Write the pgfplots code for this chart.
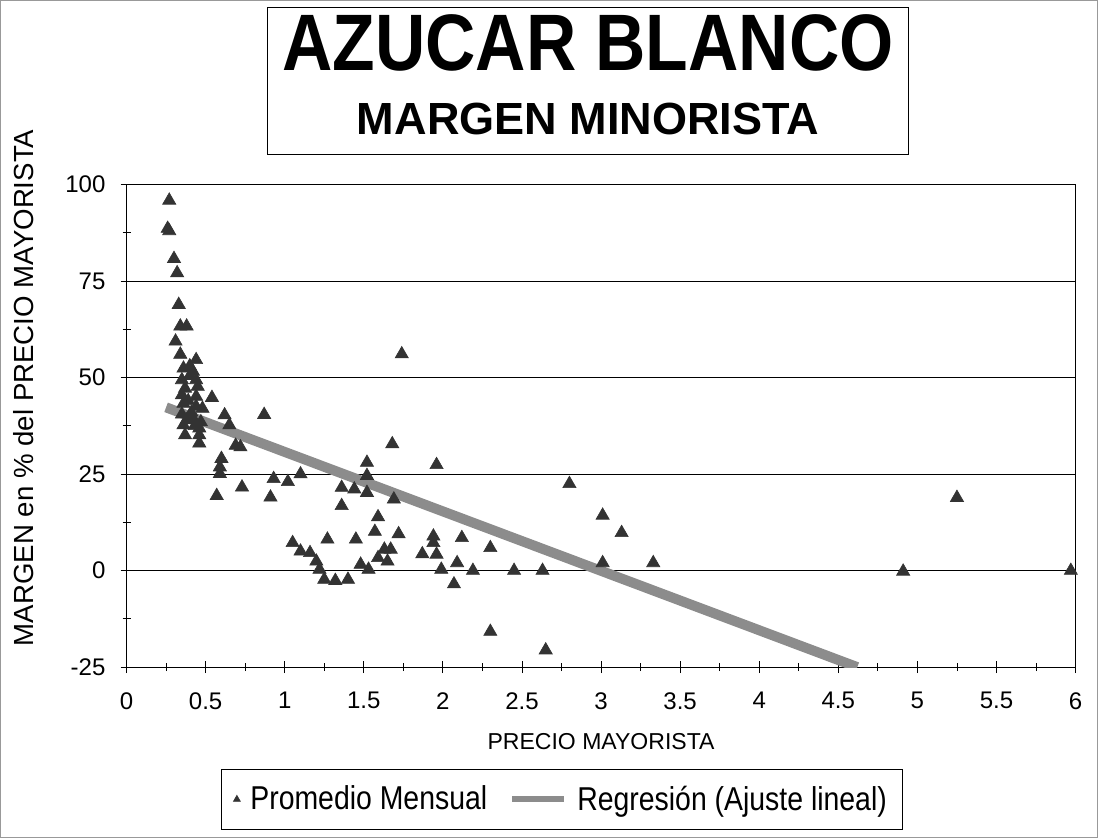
\documentclass[border=0pt]{standalone}
\usepackage{fontspec}
\setmainfont{Liberation Sans}
\newfontfamily\titlefont[FakeStretch=0.87]{Liberation Sans}
\newfontfamily\legfont[FakeStretch=0.86]{Liberation Sans}
\usepackage{pgfplots}
\pgfplotsset{compat=1.18}

\begin{document}
\begin{tikzpicture}
% outer chart border
\draw[black!40, line width=0.4pt] (0.5pt,0.5pt) rectangle (548.5pt,418.5pt);

\begin{axis}[
  at={(63.5pt,85.5pt)}, anchor=south west,
  scale only axis, width=474pt, height=241pt,
  xmin=0, xmax=6, ymin=-25, ymax=100,
  xtick={0,0.5,...,6}, minor x tick num=1,
  ytick={-25,0,25,50,75,100}, minor y tick num=1,
  tick pos=left,
  ymajorgrids, major grid style={black, line width=0.4pt},
  tick align=center, major tick length=6pt, minor tick length=4pt,
  tick style={black, line width=0.4pt},
  axis line style={black, line width=0.5pt},
  /pgf/number format/assume math mode=true,
  /pgf/number format/.cd, fixed, precision=1, 1000 sep={}, /pgfplots/.cd,
  xticklabel style={font=\fontsize{12}{14}\selectfont, yshift=-6pt},
  yticklabel style={font=\fontsize{12}{14}\selectfont, xshift=-4pt},
  xlabel={PRECIO MAYORISTA},
  xlabel style={font=\fontsize{11.5}{14}\selectfont, yshift=-5pt},
  ylabel={MARGEN en \% del PRECIO MAYORISTA},
  ylabel style={font=\fontsize{13.8}{16}\selectfont, yshift=9pt, xshift=19pt},
  legend style={at={(0.459,-0.274)}, anchor=center, draw=black, line width=0.5pt,
    legend columns=2, font=\legfont\fontsize{16.5}{18}\selectfont,
    inner xsep=6pt, inner ysep=6pt,
    /tikz/every odd column/.append style={column sep=3pt},
    /tikz/every even column/.append style={column sep=9pt}},
]
\addplot[only marks, mark=triangle*, mark size=3.8pt,
  mark options={fill=black!80, draw=black!80, line width=0.3pt},
  legend image post style={mark size=2pt}] table {
x y
0.27 95.9
0.26 88.6
0.27 88.0
0.30 80.8
0.32 77.1
0.33 68.9
0.34 63.3
0.38 63.3
0.31 59.4
0.34 56.0
0.44 54.6
0.36 52.4
0.42 51.6
0.40 53.0
0.35 49.4
0.44 49.4
0.40 50.5
0.37 47.2
0.45 47.7
0.35 45.5
0.44 45.1
0.54 44.8
0.39 44.0
0.36 43.3
0.44 42.5
0.48 42.0
0.41 41.0
0.35 40.5
0.62 40.3
0.42 39.5
0.38 39.0
0.47 38.5
0.36 37.7
0.46 36.9
0.43 37.5
0.65 37.7
0.37 35.1
0.46 35.1
0.46 33.0
0.69 32.4
0.72 32.0
0.60 29.0
0.59 26.8
0.59 25.1
0.57 19.4
0.73 21.6
0.87 40.4
0.91 19.0
0.93 23.8
1.02 23.0
1.10 25.0
1.74 56.1
1.68 32.8
1.52 28.0
1.96 27.4
1.52 24.6
1.36 21.5
1.44 21.1
1.52 20.2
1.69 18.5
2.80 22.5
1.36 16.8
1.59 13.9
1.57 10.1
1.72 9.5
1.27 8.1
1.45 8.1
1.94 8.9
2.12 8.5
2.30 5.9
1.94 7.2
3.01 14.3
1.05 7.2
1.10 5.0
1.16 4.6
1.20 2.4
1.67 5.5
1.63 5.5
1.59 3.3
1.65 2.4
1.87 4.3
1.96 4.2
1.48 1.6
1.53 0.3
1.22 0.3
1.25 -2.3
1.32 -2.6
1.40 -2.3
1.99 0.3
2.09 2.0
2.19 0.0
2.45 0.0
2.63 0.0
2.07 -3.5
2.30 -15.8
2.65 -20.6
3.01 2.0
3.13 9.8
3.33 2.0
4.91 -0.2
5.25 18.9
5.97 0.0
};
\addlegendentry{Promedio Mensual}
\addplot[black!45, line width=5pt,
  legend image code/.code={\draw[black!45, line width=3pt] (0pt,0pt) -- (26pt,0pt);}]
  coordinates {(0.25,42.3) (4.62,-25)};
\addlegendentry{Regresión (Ajuste lineal)}
\end{axis}

% title box
\draw[black, line width=0.5pt] (134pt,341.5pt) rectangle (454pt,415pt);
\node[font=\titlefont\bfseries\fontsize{40}{44}\selectfont] at (294pt,397.5pt) {AZUCAR BLANCO};
\node[font=\bfseries\fontsize{22.5}{25}\selectfont] at (294pt,359.5pt) {MARGEN MINORISTA};
\end{tikzpicture}
\end{document}
